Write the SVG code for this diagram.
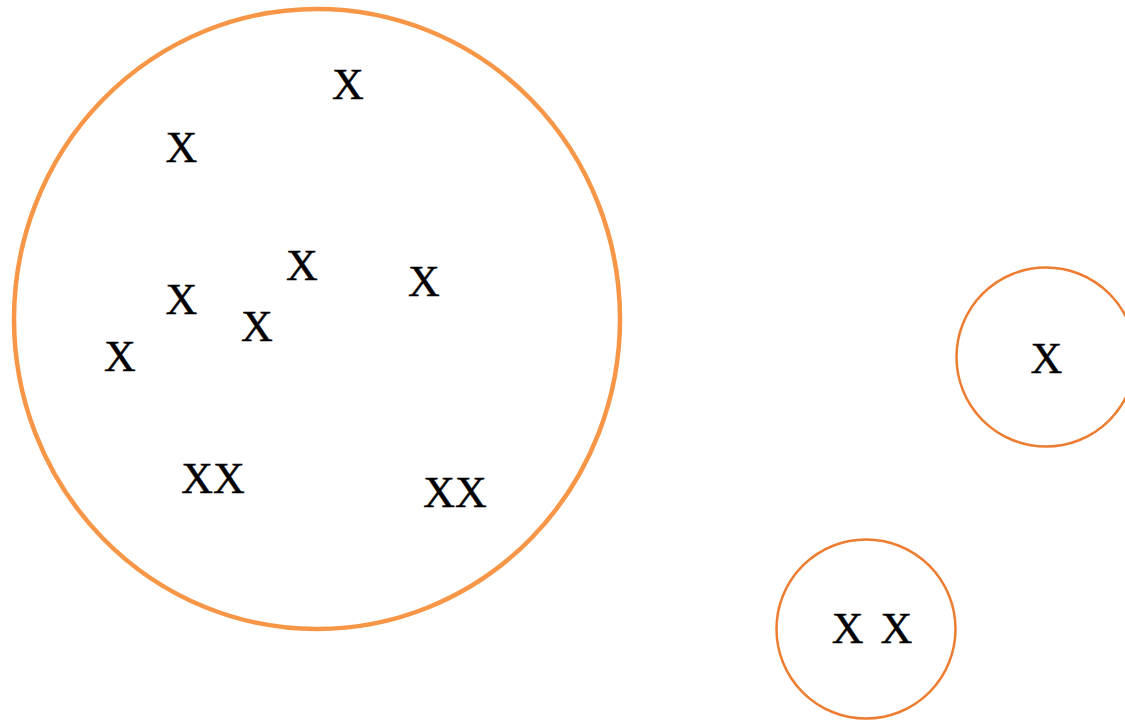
<svg xmlns="http://www.w3.org/2000/svg" width="1125" height="720" viewBox="0 0 1125 720">
<style>
.big{fill:none;stroke:#F79646;stroke-width:4.5}
.small{fill:none;stroke:#ED7D31;stroke-width:2.5}
.x{font-family:"Liberation Serif","Times New Roman",serif;font-size:44px;fill:#000;text-anchor:middle;stroke:#000;stroke-width:0.4}
</style>
<rect width="1125" height="720" fill="#fff"/>
<g id="cluster-large">
<ellipse class="big" cx="317" cy="319" rx="303" ry="310"/>
<text class="x" x="348" y="99">X</text>
<text class="x" x="181.5" y="162">X</text>
<text class="x" x="302" y="280">X</text>
<text class="x" x="424" y="295.5">X</text>
<text class="x" x="181.5" y="313.5">X</text>
<text class="x" x="257" y="340.5">X</text>
<text class="x" x="120" y="371">X</text>
<text class="x" x="213" y="492.5">XX</text>
<text class="x" x="455" y="507">XX</text>
</g>
<g id="cluster-right">
<circle class="small" cx="1046" cy="357" r="89.5"/>
<text class="x" x="1046.5" y="373">X</text>
</g>
<g id="cluster-bottom">
<circle class="small" cx="866" cy="629" r="89.5"/>
<text class="x" x="872" y="643" word-spacing="6">X X</text>
</g>
<g id="connectors"></g>
</svg>
